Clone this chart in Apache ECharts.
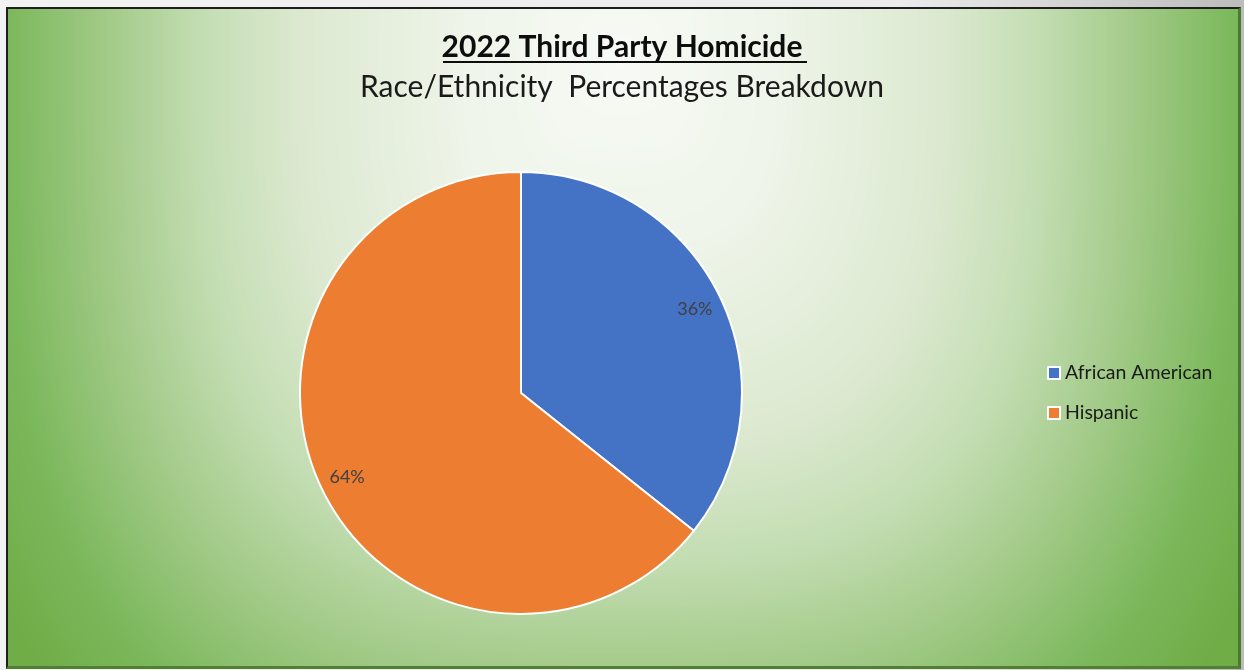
<!DOCTYPE html>
<html>
<head>
<meta charset="utf-8">
<script src="https://cdn.jsdelivr.net/npm/echarts@6/dist/echarts.min.js"></script>
<style>
  html, body { margin: 0; padding: 0; width: 1244px; height: 670px; overflow: hidden;
    background: linear-gradient(90deg, #f2f2f2 0%, #ececec 72%, #bcbcbc 100%); }
  #frame { position: absolute; left: 6px; top: 7px; width: 1230px; height: 657px;
    border-top: 2px solid #1e1e1e; border-left: 2px solid #1e1e1e;
    border-right: 3px solid #4a7a30; border-bottom: 3px solid #507f35; }
  #bg { position: absolute; left: 8px; top: 9px; }
  #chart { position: absolute; left: 0; top: 0; width: 1244px; height: 670px; }
</style>
</head>
<body>
<div id="frame"></div>
<canvas id="bg" width="1230" height="657"></canvas>
<div id="chart"></div>
<script>
const titleText = '2022 Third Party Homicide';
const subtitleText = 'Race/Ethnicity  Percentages Breakdown';
const categories = ['African American', 'Hispanic'];
const values = [5, 9];
const colors = ['#4472c4', '#ed7d31'];

// background gradient (decoration only)
(function () {
  const cv = document.getElementById('bg');
  const ctx = cv.getContext('2d');
  const W = cv.width, H = cv.height;
  const img = ctx.createImageData(W, H);
  const cx = 612, cy = 52, ky = 0.84, p = 3;
  const stops = [
    [0, [247, 250, 245]], [150, [239, 245, 234]], [320, [220, 233, 208]],
    [420, [195, 221, 178]], [520, [160, 201, 133]], [612, [124, 184, 92]],
    [690, [112, 173, 71]], [2000, [112, 173, 71]]
  ];
  function col(d) {
    for (let i = 1; i < stops.length; i++) {
      if (d <= stops[i][0]) {
        const a = stops[i - 1], b = stops[i];
        const t = (d - a[0]) / (b[0] - a[0]);
        return [0, 1, 2].map(k => a[1][k] + (b[1][k] - a[1][k]) * t);
      }
    }
    return stops[stops.length - 1][1];
  }
  for (let y = 0; y < H; y++) {
    for (let x = 0; x < W; x++) {
      const dx = Math.abs(x - cx), dy = Math.abs(y - cy) * ky;
      const d = Math.pow(Math.pow(dx, p) + Math.pow(dy, p), 1 / p);
      const c = col(d);
      const o = (y * W + x) * 4;
      img.data[o] = c[0]; img.data[o + 1] = c[1]; img.data[o + 2] = c[2]; img.data[o + 3] = 255;
    }
  }
  ctx.putImageData(img, 0, 0);
})();

const chart = echarts.init(document.getElementById('chart'), null, { renderer: 'canvas' });
const pieData = categories.map((c, i) => ({ name: c, value: values[i], itemStyle: { color: colors[i] } }));

chart.setOption({
  backgroundColor: 'transparent',
  animation: false,
  title: {
    left: 'center',
    top: 27,
    text: titleText,
    subtext: subtitleText,
    itemGap: 10,
    textStyle: { fontFamily: 'Lato', fontWeight: 'bold', fontSize: 30, color: '#0d0d0d' },
    subtextStyle: { fontFamily: 'Lato', fontWeight: 'normal', fontSize: 30, color: '#1a1a1a' }
  },
  legend: {
    orient: 'vertical',
    left: 1042,
    top: 358,
    itemGap: 20,
    itemWidth: 12,
    itemHeight: 12,
    icon: 'rect',
    data: categories.map((c, i) => ({ name: c, itemStyle: { color: colors[i], borderColor: '#ffffff', borderWidth: 2 } })),
    textStyle: { fontFamily: 'Lato', fontSize: 19.5, color: '#1a1a1a' }
  },
  graphic: [{
    type: 'line',
    shape: { x1: 443, y1: 62, x2: 807, y2: 62 },
    style: { stroke: '#0d0d0d', lineWidth: 2 },
    silent: true
  }],
  series: [{
    type: 'pie',
    center: [521, 393],
    radius: 221,
    startAngle: 90,
    clockwise: true,
    silent: true,
    label: { show: false },
    labelLine: { show: false },
    itemStyle: { borderColor: '#ffffff', borderWidth: 2 },
    emphasis: { disabled: true },
    data: pieData
  }, {
    type: 'pie',
    center: [521, 393],
    radius: [159, 221],
    startAngle: 90,
    clockwise: true,
    silent: true,
    emphasis: { disabled: true },
    itemStyle: { color: 'rgba(0,0,0,0)' },
    label: {
      show: true,
      position: 'inside',
      fontFamily: 'Lato',
      fontSize: 18,
      color: '#404040',
      formatter: p => Math.round(p.percent) + '%'
    },
    labelLine: { show: false },
    data: categories.map((c, i) => ({ name: c, value: values[i] }))
  }]
});
</script>
</body>
</html>
